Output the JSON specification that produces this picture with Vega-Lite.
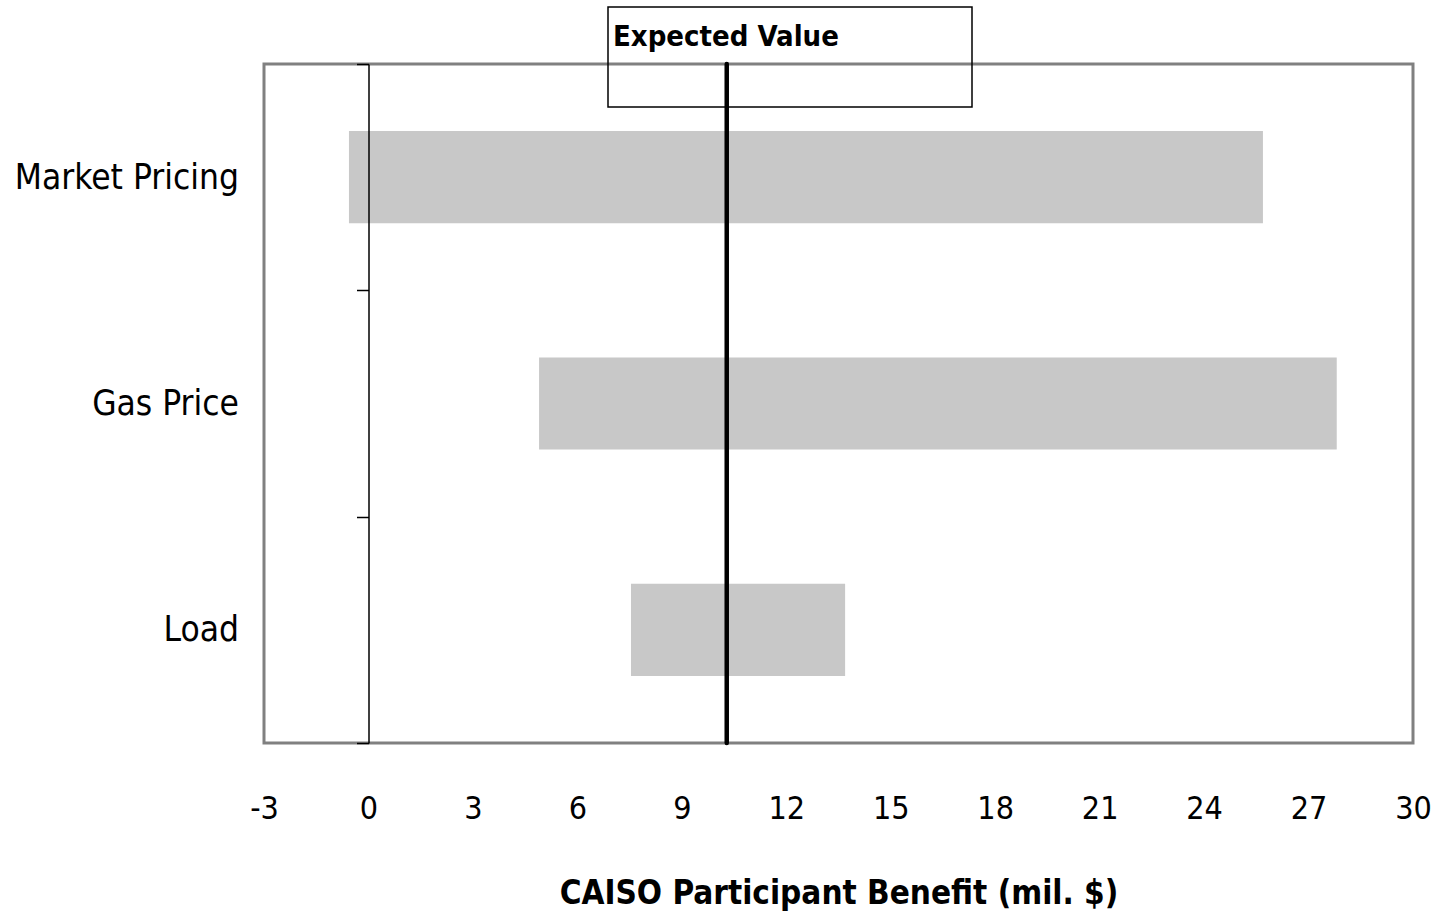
{
  "$schema": "https://vega.github.io/schema/vega-lite/v6.json",
  "width": 1149,
  "height": 679,
  "autosize": {"type": "none"},
  "padding": {"left": 264, "top": 64, "right": 28, "bottom": 174},
  "config": {
    "view": {"stroke": "#808080", "strokeWidth": 3},
    "font": "DejaVu Sans Condensed"
  },
  "datasets": {
    "bars": [
      {"factor": "Market Pricing", "low": -0.56, "high": 25.69},
      {"factor": "Gas Price", "low": 4.9, "high": 27.81},
      {"factor": "Load", "low": 7.54, "high": 13.69}
    ],
    "ev": [
      {"label": "Expected Value", "value": 10.29}
    ]
  },
  "layer": [
    {
      "data": {"name": "bars"},
      "mark": {"type": "bar", "color": "#C8C8C8", "height": {"band": 0.407}},
      "encoding": {
        "y": {
          "field": "factor",
          "type": "nominal",
          "sort": null,
          "scale": {"paddingInner": 0, "paddingOuter": 0},
          "axis": {
            "title": null,
            "orient": "left",
            "offset": -104.5,
            "tickBand": "extent",
            "tickSize": 12,
            "tickColor": "black",
            "tickWidth": 1.5,
            "domainColor": "black",
            "domainWidth": 1.5,
            "labelFont": "DejaVu Sans Condensed",
            "labelFontSize": 35,
            "labelColor": "black",
            "labelPadding": 118,
            "labelLimit": 400,
            "zindex": 1
          }
        },
        "x": {
          "field": "low",
          "type": "quantitative",
          "scale": {"domain": [-3, 30], "nice": false, "zero": false},
          "axis": {
            "values": [-3, 0, 3, 6, 9, 12, 15, 18, 21, 24, 27, 30],
            "labelExpr": "'' + datum.value",
            "grid": false,
            "ticks": false,
            "tickSize": 0,
            "domain": false,
            "labelFont": "DejaVu Sans Condensed",
            "labelFontSize": 32,
            "labelColor": "black",
            "labelPadding": 50,
            "labelFlush": false,
            "title": "CAISO Participant Benefit (mil. $)",
            "titleFont": "DejaVu Sans Condensed",
            "titleFontSize": 33,
            "titleFontWeight": "bold",
            "titleColor": "black",
            "titlePadding": 53
          }
        },
        "x2": {"field": "high"}
      }
    },
    {
      "data": {"name": "ev"},
      "mark": {"type": "rule", "strokeWidth": 4.5, "strokeCap": "round"},
      "encoding": {
        "x": {"field": "value", "type": "quantitative"},
        "color": {
          "field": "value",
          "type": "quantitative",
          "scale": {"domain": [0, 30], "range": ["black", "black"]},
          "legend": {
            "type": "gradient",
            "direction": "horizontal",
            "orient": "none",
            "legendX": 344,
            "legendY": -57,
            "title": "Expected Value",
            "titleFont": "DejaVu Sans Condensed",
            "titleFontSize": 29,
            "titleFontWeight": "bold",
            "titleColor": "black",
            "titleLimit": 400,
            "titleBaseline": "line-top",
            "titleLineHeight": 52,
            "titlePadding": 0,
            "labels": false,
            "labelFontSize": 1,
            "labelOpacity": 0,
            "gradientLength": 354,
            "gradientThickness": 58,
            "gradientStrokeWidth": 0,
            "padding": 5,
            "strokeColor": "black",
            "encode": {
              "gradient": {"update": {"opacity": {"value": 0}}},
              "labels": {"update": {"opacity": {"value": 0}}},
              "legend": {"update": {"strokeWidth": {"value": 1.5}}}
            }
          }
        }
      }
    }
  ]
}
